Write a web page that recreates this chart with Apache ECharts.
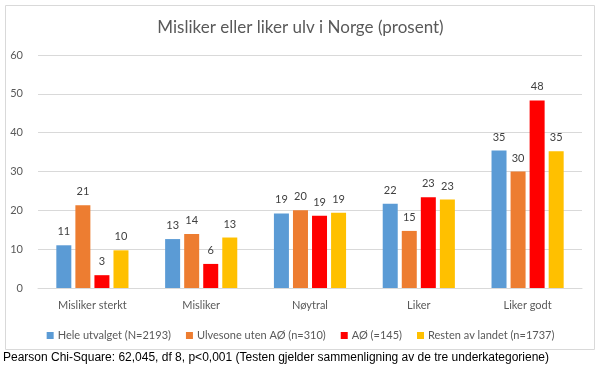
<!DOCTYPE html>
<html><head><meta charset="utf-8">
<script src="https://cdn.jsdelivr.net/npm/echarts@6/dist/echarts.min.js"></script>
<style>html,body{margin:0;padding:0;background:#fff}#c{width:601px;height:375px}</style>
</head><body><div id="c"></div>
<script>
const categories = ["Misliker sterkt", "Misliker", "Nøytral", "Liker", "Liker godt"];
const seriesNames = ["Hele utvalget (N=2193)", "Ulvesone uten AØ (n=310)", "AØ (=145)", "Resten av landet (n=1737)"];
const hele = [11.0, 12.6, 19.2, 21.7, 35.4];
const ulvesone = [21.3, 13.9, 20.0, 14.7, 30.0];
const ao = [3.3, 6.2, 18.6, 23.4, 48.3];
const resten = [9.7, 13.0, 19.4, 22.8, 35.2];
const colors = ["#5B9BD5", "#ED7D31", "#FF0000", "#FFC000"];
const yTicks = [0, 10, 20, 30, 40, 50, 60];

const font = "Lato, 'Open Sans', sans-serif";
const data = [hele, ulvesone, ao, resten];
const chart = echarts.init(document.getElementById('c'));
chart.setOption({
  animation: false,
  color: colors,
  title: {
    text: "Misliker eller liker ulv i Norge (prosent)",
    left: 'center', top: 14,
    textStyle: {fontFamily: font, fontSize: 17, fontWeight: 'normal', color: '#595959'}
  },
  grid: {left: 38, right: 19, top: 55, bottom: 87, containLabel: false},
  legend: {
    top: 325, left: 'center',
    itemWidth: 7, itemHeight: 7, itemGap: 15,
    icon: 'rect',
    textStyle: {fontFamily: font, fontSize: 11, color: '#595959', padding: [0, 0, 0, -1]},
    data: seriesNames
  },
  xAxis: {
    type: 'category', data: categories,
    axisLine: {lineStyle: {color: '#D9D9D9'}},
    axisTick: {show: false},
    axisLabel: {fontFamily: font, fontSize: 11, color: '#595959', margin: 12}
  },
  yAxis: {
    type: 'value', min: yTicks[0], max: yTicks[yTicks.length - 1], interval: 10,
    axisLine: {show: false}, axisTick: {show: false},
    axisLabel: {fontFamily: font, fontSize: 11, color: '#595959', margin: 15},
    splitLine: {lineStyle: {color: '#D9D9D9'}}
  },
  series: seriesNames.map((n, i) => ({
    name: n, type: 'bar', data: data[i],
    barWidth: 15, barGap: '27%',
    label: {show: true, position: 'top', distance: 8, fontFamily: font, fontSize: 11, color: '#404040',
      formatter: p => Math.round(p.value)}
  })),
  graphic: [
    {type: 'rect', shape: {x: 5.5, y: 5.5, width: 589, height: 344}, style: {fill: 'none', stroke: '#D9D9D9', lineWidth: 1}, z: -1},
    {type: 'text', left: 3, top: 352, style: {text: "Pearson Chi-Square: 62,045, df 8, p<0,001 (Testen gjelder sammenligning av de tre underkategoriene)", font: "12px 'Liberation Sans', Arial, sans-serif", fill: '#000'}}
  ]
});
</script></body></html>
